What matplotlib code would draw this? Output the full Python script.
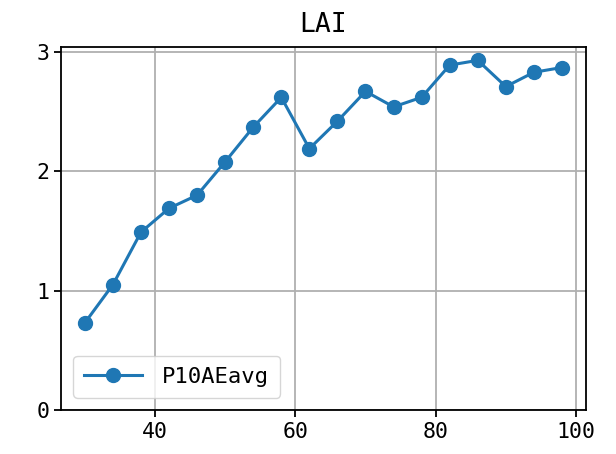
import matplotlib
matplotlib.use("Agg")
import matplotlib.pyplot as plt

plt.rcParams["font.family"] = ["DejaVu Sans Mono", "DejaVu Sans"]

days = [30, 34, 38, 42, 46, 50, 54, 58, 62, 66, 70, 74, 78, 82, 86, 90, 94, 98]
lai = [0.73, 1.05, 1.49, 1.69, 1.80, 2.08, 2.37, 2.62, 2.19, 2.42,
       2.67, 2.54, 2.62, 2.89, 2.93, 2.71, 2.83, 2.87]
series_name = "P10AEavg"

fig, ax = plt.subplots(figsize=(6.16, 4.54), dpi=100)
ax.plot(days, lai, marker="o", color="#1f77b4", linewidth=2.2, markersize=10, label=series_name)
ax.set_ylim(bottom=0)
ax.set_title("LAI", fontsize=19, pad=11)
ax.set_xticks([40, 60, 80, 100])
ax.set_yticks([0, 1, 2, 3])
ax.tick_params(labelsize=15.5, width=1.3, length=5)
for sp in ax.spines.values():
    sp.set_linewidth(1.3)
ax.grid(True, color="#b0b0b0", linewidth=1.3)
ax.legend(loc="lower left", fontsize=16, handlelength=2.6, handletextpad=0.9,
          borderpad=0.5, borderaxespad=0.55)
fig.subplots_adjust(left=0.099, right=0.951, top=0.896, bottom=0.097)
fig.savefig("out.png", dpi=100)
